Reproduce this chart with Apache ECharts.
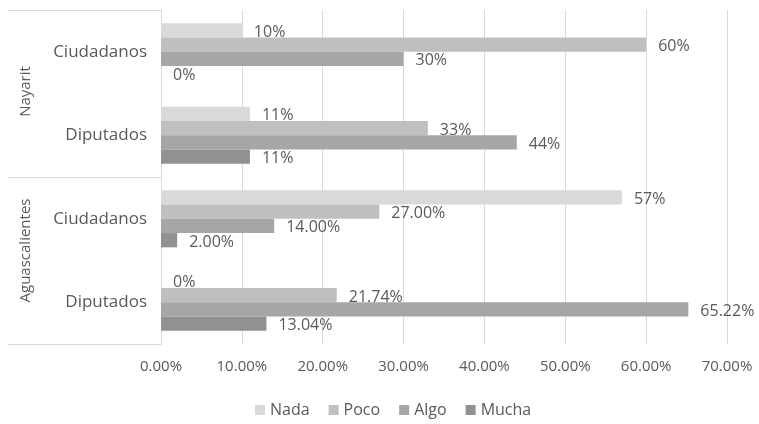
<!DOCTYPE html>
<html>
<head>
<meta charset="utf-8">
<script src="https://cdn.jsdelivr.net/npm/echarts@6/dist/echarts.min.js"></script>
<style>
  html, body { margin: 0; padding: 0; background: #ffffff; }
  #chart { width: 759px; height: 424px; }
</style>
</head>
<body>
<div id="chart"></div>
<script>
// Categories (top to bottom) and their state groups
const categories = ['Ciudadanos', 'Diputados', 'Ciudadanos', 'Diputados'];
const groups = ['Nayarit', 'Aguascalientes'];
const seriesNames = ['Nada', 'Poco', 'Algo', 'Mucha'];

// Percent values per series, in category order
const nada  = [10, 11, 57, 0];
const poco  = [60, 33, 27, 21.74];
const algo  = [30, 44, 14, 65.22];
const mucha = [0, 11, 2, 13.04];

// Decimals shown in each bar's label
const nadaDec  = [0, 0, 0, 0];
const pocoDec  = [0, 0, 2, 2];
const algoDec  = [0, 0, 2, 2];
const muchaDec = [0, 0, 2, 2];

// Axis ticks
const xMin = 0, xMax = 70, xStep = 10;

const colors = ['#d9d9d9', '#bfbfbf', '#a6a6a6', '#919191'];
const textColor = '#595959';
const lineColor = '#d9d9d9';
const font = 'Open Sans';

const values = [nada, poco, algo, mucha];
const decimals = [nadaDec, pocoDec, algoDec, muchaDec];

// Small nudges of the rotated group captions along the axis
const groupShift = [4, 20];

const chart = echarts.init(document.getElementById('chart'), null, { renderer: 'canvas' });

chart.setOption({
  backgroundColor: '#ffffff',
  animation: false,
  textStyle: { fontFamily: font },
  legend: {
    data: seriesNames,
    bottom: 1,
    left: 250,
    itemWidth: 10,
    itemHeight: 10,
    itemGap: 19,
    icon: 'rect',
    textStyle: { color: textColor, fontSize: 16, fontFamily: font }
  },
  grid: { left: 161, right: 32, top: 10, bottom: 80, containLabel: false },
  xAxis: {
    type: 'value',
    min: xMin,
    max: xMax,
    interval: xStep,
    axisLine: { show: false },
    axisTick: { show: false },
    splitLine: { lineStyle: { color: lineColor, width: 1 } },
    axisLabel: {
      color: textColor, fontSize: 15, fontFamily: font, margin: 15,
      formatter: v => v.toFixed(2) + '%'
    }
  },
  yAxis: [
    {
      type: 'category',
      data: categories,
      inverse: true,
      axisLine: { show: true, lineStyle: { color: lineColor } },
      axisTick: { show: false },
      axisLabel: { color: textColor, fontSize: 17, fontFamily: font, margin: 14 }
    },
    {
      type: 'category',
      data: groups.map((g, i) => ({
        value: g,
        textStyle: { padding: [0, 0, 0, groupShift[i]] }
      })),
      inverse: true,
      position: 'left',
      axisLine: { show: false },
      axisTick: { show: true, length: 153, lineStyle: { color: lineColor } },
      axisLabel: { color: textColor, fontSize: 15, fontFamily: font, rotate: 90, margin: 128 }
    }
  ],
  series: seriesNames.map((name, i) => ({
    name: name,
    type: 'bar',
    yAxisIndex: 0,
    barGap: '0%',
    barCategoryGap: '31.5%',
    itemStyle: { color: colors[i] },
    data: values[i],
    label: {
      show: true,
      position: 'right',
      distance: 12,
      offset: [0, 2],
      color: textColor,
      fontSize: 16,
      fontFamily: font,
      formatter: p => p.value.toFixed(decimals[i][p.dataIndex]) + '%'
    }
  }))
});
</script>
</body>
</html>
